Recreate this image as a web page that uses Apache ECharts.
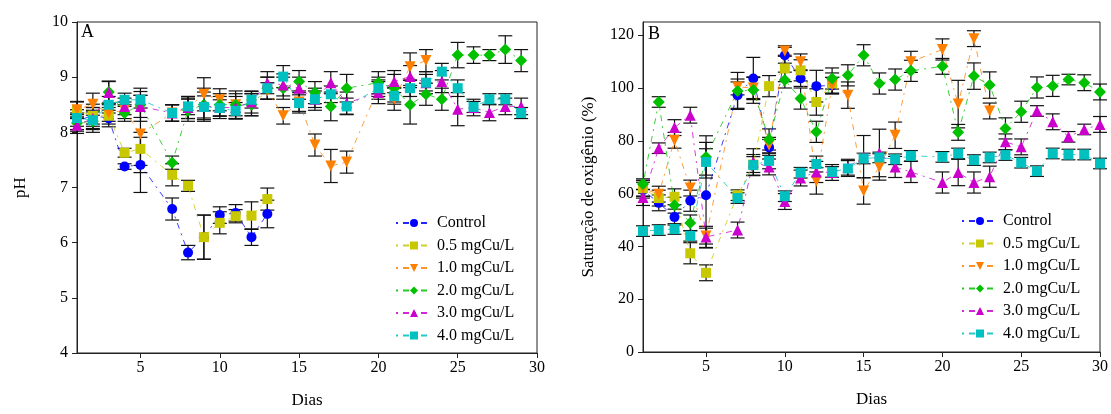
<!DOCTYPE html>
<html><head><meta charset="utf-8">
<script src="https://cdn.jsdelivr.net/npm/echarts@6/dist/echarts.min.js"></script>
<style>html,body{margin:0;padding:0;background:#fff}#c{width:1111px;height:414px}</style>
</head><body><div id="c"></div>
<script>
// ---- data ----
const daysL = [1,2,3,4,5,7,8,9,10,11,12,13,14,15,16,17,18,20,21,22,23,24,25,26,27,28,29];
const daysR = [1,2,3,4,5,7,8,9,10,11,12,13,14,15,16,17,18,20,21,22,23,24,25,26,27,28,29,30];
const seriesNames = ['Control','0.5 mgCu/L','1.0 mgCu/L','2.0 mgCu/L','3.0 mgCu/L','4.0 mgCu/L'];
const xTicks = [5,10,15,20,25,30];
const phTicks = [4,5,6,7,8,9,10];
const oxTicks = [0,20,40,60,80,100,120];

const phControl = [8.20,8.31,8.25,7.38,7.41,6.61,5.82,6.10,6.50,6.54,6.10,6.52];
const ph05 = [8.40,8.30,8.30,7.63,7.70,7.23,7.03,6.10,6.36,6.48,6.49,6.79];
const ph10 = [8.41,8.51,8.35,8.40,7.97,8.35,8.45,8.69,8.59,8.50,8.50,8.75,8.30,8.55,7.77,7.39,7.46,8.80,8.60,9.19,9.30];
const ph20 = [8.17,8.20,8.73,8.35,8.50,7.45,8.40,8.50,8.50,8.50,8.50,8.80,8.80,8.92,8.72,8.47,8.80,8.90,8.80,8.50,8.69,8.60,9.40,9.40,9.40,9.50,9.30];
const ph30 = [8.13,8.25,8.72,8.47,8.47,8.35,8.45,8.48,8.45,8.45,8.55,8.90,8.86,8.80,8.60,8.90,8.53,8.72,8.92,9.01,8.90,8.92,8.42,8.45,8.36,8.47,8.47];
const ph40 = [8.26,8.22,8.50,8.59,8.59,8.35,8.47,8.46,8.44,8.39,8.59,8.80,9.01,8.53,8.60,8.69,8.47,8.80,8.66,8.80,8.90,9.10,8.80,8.46,8.60,8.60,8.35];

const phControlErr = [0.15,0.20,0.15,0.05,0.50,0.20,0.13,0.40,0.15,0.15,0.15,0.25];
const ph05Err = [0.15,0.15,0.15,0.08,0.30,0.20,0.10,0.40,0.20,0.12,0.25,0.20];
const ph10Err = [0.15,0.20,0.15,0.15,0.70,0.15,0.20,0.30,0.20,0.20,0.20,0.15,0.15,0.20,0.20,0.30,0.20,0.20,0.20,0.25,0.20];
const ph20Err = [0.15,0.20,0.20,0.15,0.30,0.12,0.20,0.30,0.20,0.25,0.20,0.20,0.20,0.20,0.20,0.26,0.25,0.20,0.25,0.35,0.20,0.20,0.23,0.15,0.10,0.25,0.20];
const ph30Err = [0.15,0.20,0.20,0.15,0.20,0.15,0.20,0.25,0.20,0.20,0.20,0.20,0.20,0.20,0.20,0.20,0.20,0.20,0.20,0.20,0.20,0.20,0.30,0.15,0.15,0.15,0.15];
const ph40Err = [0.15,0.15,0.15,0.12,0.15,0.15,0.15,0.20,0.15,0.15,0.15,0.20,0.20,0.15,0.15,0.15,0.15,0.15,0.15,0.15,0.15,0.15,0.15,0.10,0.10,0.10,0.10];

const oxControl = [61.3,56.5,51.1,57.3,59.4,97.3,103.6,77.5,112.4,103.6,100.7,101.0];
const ox05 = [62.0,58.3,58.8,37.4,30.0,59.4,71.0,100.7,107.4,106.7,94.7,101.7];
const ox10 = [62.0,59.8,80.2,62.1,43.9,100.4,100.0,78.3,114.0,109.9,64.8,101.0,97.3,61.0,70.1,82.1,109.9,114.6,93.9,118.7,91.3];
const ox20 = [63.6,94.7,55.6,48.9,73.9,98.9,99.2,80.5,103.0,96.0,83.4,103.6,104.8,112.4,101.7,103.2,106.5,108.2,83.2,104.5,101.1,84.7,91.0,100.2,100.8,103.2,102.0,98.5];
const ox30 = [58.5,77.2,85.0,89.7,43.6,46.2,72.0,70.1,57.0,65.9,68.2,68.0,70.0,74.0,75.4,70.1,68.2,64.2,68.0,64.2,66.4,79.6,77.7,91.3,87.2,81.5,84.3,86.2];
const ox40 = [45.8,46.2,46.6,44.0,72.0,58.3,70.8,72.4,59.0,67.9,71.2,68.2,69.5,73.3,73.7,73.0,74.3,73.9,75.2,72.7,73.7,74.6,71.7,68.5,75.2,74.8,74.8,71.4];

const oxControlErr = [3,3,3,4,20,5,8,3,3,3,6,3];
const ox05Err = [3,3,3,4,3,2,3,4,5,4,5,4];
const ox10Err = [3,3,3,3,3,3,4,3,2,3,5,3,5,5,5,5,4,4,9,3,3];
const ox20Err = [2,2,3,3,8,7,5,4,3,4,4,4,4,4,4,4,4,3,3,5,5,4,4,4,4,2,3,3];
const ox30Err = [3,2,3,3,4,3,5,3,3,3,4,3,3,8,9,4,4,4,5,4,4,3,3,2,3,2,2,3];
const ox40Err = [2,2,2,2,5,2,4,3,2,2,3,2,3,2,2,2,2,2,2,2,2,2,2,2,2,2,2,2];

// ---- styles ----
const colors = ['#0000FF','#C8C800','#FF8000','#00C000','#CC00CC','#00C0C0'];
const symbols = ['circle','rect','triangle','diamond','triangle','rect'];
const rotates = [0,0,180,0,0,0];
const sizes = [10,10,11,12,11,10];
const FONT = 'Liberation Serif';

const phVals = [phControl,ph05,ph10,ph20,ph30,ph40];
const phErrs = [phControlErr,ph05Err,ph10Err,ph20Err,ph30Err,ph40Err];
const oxVals = [oxControl,ox05,ox10,ox20,ox30,ox40];
const oxErrs = [oxControlErr,ox05Err,ox10Err,ox20Err,ox30Err,ox40Err];

function pairs(days, vals){ return vals.map((v,i)=>[days[i], v]); }
function errItems(days, valsList, errList){
  const out = [];
  valsList.forEach((vals,s)=>vals.forEach((v,i)=>out.push([days[i], v, errList[s][i]])));
  return out;
}
function renderErr(params, api){
  const x = api.value(0), y = api.value(1), e = api.value(2);
  const lo = api.coord([x, y - e]), hi = api.coord([x, y + e]);
  const w = 7;
  const st = {stroke:'#111', lineWidth:1.2};
  return {type:'group', children:[
    {type:'line', shape:{x1:lo[0],y1:lo[1],x2:hi[0],y2:hi[1]}, style:st},
    {type:'line', shape:{x1:lo[0]-w,y1:lo[1],x2:lo[0]+w,y2:lo[1]}, style:st},
    {type:'line', shape:{x1:hi[0]-w,y1:hi[1],x2:hi[0]+w,y2:hi[1]}, style:st}
  ]};
}

const series = [];
[[0,daysL,phVals,phErrs],[1,daysR,oxVals,oxErrs]].forEach(([g,days,vals,errs])=>{
  series.push({type:'custom', xAxisIndex:g, yAxisIndex:g, renderItem:renderErr,
    data:errItems(days, vals, errs), z:2, silent:true});
  vals.forEach((v,s)=>{
    series.push({type:'line', name:seriesNames[s], xAxisIndex:g, yAxisIndex:g,
      data:pairs(days, v), symbol:symbols[s], symbolSize:sizes[s], symbolRotate:rotates[s],
      showAllSymbol:true, z:3,
      itemStyle:{color:colors[s]},
      lineStyle:{color:colors[s], width:0.9, opacity:0.85, type:[2,5,6,5]}});
  });
});

function xAxis(g){
  return {type:'value', gridIndex:g, min:1, max:30, name:'Dias', nameLocation:'middle', nameGap:39,
    nameTextStyle:{fontFamily:FONT, fontSize:17, color:'#000'},
    axisLine:{lineStyle:{color:'#222', width:1}},
    axisTick:{inside:false, length:5, customValues:xTicks, lineStyle:{color:'#222'}},
    axisLabel:{customValues:xTicks, fontFamily:FONT, fontSize:16, color:'#000', margin:7},
    splitLine:{show:false}};
}
const chart = echarts.init(document.getElementById('c'), null, {renderer:'canvas'});
chart.setOption({
  animation:false,
  backgroundColor:'#fff',
  grid:[
    {left:77, right:574, top:22, bottom:61, show:true, borderColor:'#222', borderWidth:1},
    {left:643, right:9, top:22, bottom:62, show:true, borderColor:'#222', borderWidth:1}
  ],
  xAxis:[xAxis(0), xAxis(1)],
  yAxis:[
    {type:'value', gridIndex:0, min:4, max:10, name:'pH', nameLocation:'middle', nameGap:48,
      nameTextStyle:{fontFamily:FONT, fontSize:17, color:'#000'},
      axisLine:{show:true, lineStyle:{color:'#222'}},
      axisTick:{show:true, length:5, customValues:phTicks, lineStyle:{color:'#222'}},
      axisLabel:{customValues:phTicks, fontFamily:FONT, fontSize:16, color:'#000', margin:9},
      splitLine:{show:false}},
    {type:'value', gridIndex:1, min:0, max:125, name:'Saturação de oxigênio (%)', nameLocation:'middle', nameGap:46,
      nameTextStyle:{fontFamily:FONT, fontSize:17, color:'#000'},
      axisLine:{show:true, lineStyle:{color:'#222'}},
      axisTick:{show:true, length:5, customValues:oxTicks, lineStyle:{color:'#222'}},
      axisLabel:{customValues:oxTicks, fontFamily:FONT, fontSize:16, color:'#000', margin:9},
      splitLine:{show:false}}
  ],
  legend:[
    {data:seriesNames, orient:'vertical', left:390, top:210, itemWidth:36, itemHeight:10, itemGap:6.5,
      textStyle:{fontFamily:FONT, fontSize:16, color:'#000'}, selectedMode:false},
    {data:seriesNames, orient:'vertical', left:956, top:208, itemWidth:36, itemHeight:10, itemGap:6.5,
      textStyle:{fontFamily:FONT, fontSize:16, color:'#000'}, selectedMode:false}
  ],
  graphic:[
    {type:'text', left:81, top:23, style:{text:'A', fontFamily:FONT, fontSize:18, fill:'#000'}},
    {type:'text', left:648, top:25, style:{text:'B', fontFamily:FONT, fontSize:18, fill:'#000'}}
  ],
  series:series
});
</script></body></html>
